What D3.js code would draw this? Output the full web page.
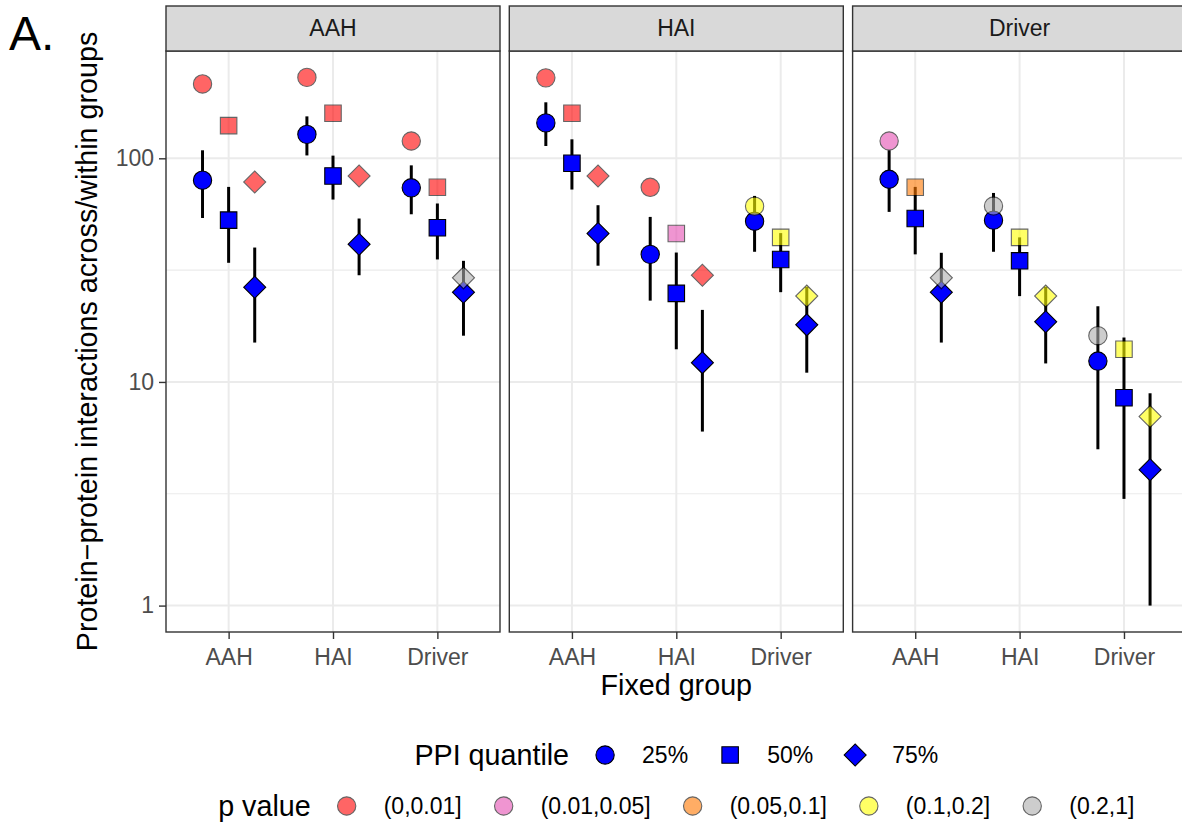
<!DOCTYPE html>
<html>
<head>
<meta charset="utf-8">
<script src="https://cdn.jsdelivr.net/npm/d3@7"></script>
<style>
    body { margin: 0; background: #ffffff; }
    svg { display: block; font-family: "Liberation Sans", Arial, Helvetica, sans-serif; }
</style>
</head>
<body>
<svg id="chart" width="1182" height="827"></svg>
<script>
// facets, x categories and dodge groups
var facets = ["AAH", "HAI", "Driver"];
var fixedGroups = ["AAH", "HAI", "Driver"];
var quantiles = ["25%", "50%", "75%"];
var pBins = ["(0,0.01]", "(0.01,0.05]", "(0.05,0.1]", "(0.1,0.2]", "(0.2,1]"];
var pColors = ["#ff0000", "#e650b4", "#ff7800", "#ffff00", "#acacac"];
var yTicks = [1, 10, 100];

// values are listed facet by facet, then fixed group, then quantile
var observed = [
    79.8, 52.9, 26.5, 128, 83.4, 41.3, 73.8, 48.9, 25.2,
    144, 95, 46.1, 37.2, 24.9, 12.2, 52.3, 35.3, 18.0,
    80.6, 53.8, 25.2, 52.9, 34.8, 18.6, 12.4, 8.5, 4.05
];
var lower = [
    54.1, 34.1, 15.0, 103, 65.4, 30.0, 56.2, 35.3, 16.1,
    113.5, 72.5, 33.1, 23.1, 14.0, 6.0, 38.2, 25.2, 11.0,
    57.6, 37.2, 15.0, 38.2, 24.2, 12.1, 5.0, 3.0, 1.0
];
var upper = [
    108.6, 74.5, 39.9, 154, 102.8, 53.8, 93, 62.8, 34.8,
    178, 121.6, 61.7, 54.7, 37.9, 21.0, 67.9, 46.3, 26.6,
    108.6, 74.5, 37.8, 70, 44.3, 26.6, 21.8, 15.8, 8.9
];
var nullValue = [
    215, 140, 78.4, 230, 159, 83.4, 119.5, 74.2, 29.2,
    229, 159, 83.4, 74.2, 46.1, 30.0, 61.1, 44.3, 24.2,
    119.5, 74.2, 29.2, 61.2, 44.3, 24.2, 16.1, 14.0, 7.0
];
var pValueBin = [
    0, 0, 0, 0, 0, 0, 0, 0, 4,
    0, 0, 0, 0, 1, 0, 3, 3, 3,
    1, 2, 4, 4, 3, 3, 4, 3, 3
];

var data = [];
for (var i = 0; i < observed.length; i++) {
    data.push({
        facet: facets[Math.floor(i / 9)],
        group: fixedGroups[Math.floor(i / 3) % 3],
        quantile: quantiles[i % 3],
        obs: observed[i],
        lo: lower[i],
        hi: upper[i],
        nul: nullValue[i],
        p: pBins[pValueBin[i]]
    });
}

var svg = d3.select("#chart");
var font = "\"Liberation Sans\", Arial, Helvetica, sans-serif";

var panelLeft = 166, panelW = 334, panelGap = 9.3;
var panelTop = 51, panelBottom = 632, stripTop = 6;

// log y scale with ggplot style 5% expansion
var allVals = observed.concat(lower, upper, nullValue);
var lmin = Math.log10(d3.min(allVals)), lmax = Math.log10(d3.max(allVals));
var pad = (lmax - lmin) * 0.05;
var yScale = d3.scaleLog()
    .domain([Math.pow(10, lmin - pad), Math.pow(10, lmax + pad)])
    .range([panelBottom, panelTop]);

var colorScale = d3.scaleOrdinal().domain(pBins).range(pColors);
var shapeScale = d3.scaleOrdinal().domain(quantiles)
    .range([d3.symbolCircle, d3.symbolSquare, d3.symbolSquare]);
var sizeScale = d3.scaleOrdinal().domain(quantiles).range([263, 272, 242]);
var rotScale = d3.scaleOrdinal().domain(quantiles).range([0, 0, 45]);

function symbolPath(q) {
    return d3.symbol().type(shapeScale(q)).size(sizeScale(q))();
}

svg.append("rect").attr("width", 1182).attr("height", 827).attr("fill", "#ffffff");

facets.forEach(function (facet, fi) {
    var x0 = panelLeft + fi * (panelW + panelGap);
    var xScale = d3.scalePoint().domain(fixedGroups).range([x0, x0 + panelW]).padding(0.6);
    var step = xScale.step();
    var dodge = d3.scalePoint().domain(quantiles).range([-step / 4, step / 4]);
    var xPos = function (d) { return xScale(d.group) + dodge(d.quantile); };
    var rows = data.filter(function (d) { return d.facet == facet; });

    var g = svg.append("g");

    // grid
    var minor = [Math.sqrt(10), Math.sqrt(1000)];
    g.selectAll(".minor").data(minor).enter().append("line")
        .attr("x1", x0).attr("x2", x0 + panelW)
        .attr("y1", function (d) { return yScale(d); })
        .attr("y2", function (d) { return yScale(d); })
        .attr("stroke", "#ebebeb").attr("stroke-width", 1.1);
    g.selectAll(".major").data(yTicks).enter().append("line")
        .attr("x1", x0).attr("x2", x0 + panelW)
        .attr("y1", function (d) { return yScale(d); })
        .attr("y2", function (d) { return yScale(d); })
        .attr("stroke", "#ebebeb").attr("stroke-width", 2);
    g.selectAll(".vmajor").data(fixedGroups).enter().append("line")
        .attr("x1", function (d) { return xScale(d); })
        .attr("x2", function (d) { return xScale(d); })
        .attr("y1", panelTop).attr("y2", panelBottom)
        .attr("stroke", "#ebebeb").attr("stroke-width", 2);

    // error bars
    g.selectAll(".bar").data(rows).enter().append("line")
        .attr("x1", xPos).attr("x2", xPos)
        .attr("y1", function (d) { return yScale(d.lo); })
        .attr("y2", function (d) { return yScale(d.hi); })
        .attr("stroke", "#000000").attr("stroke-width", 3);

    // observed points
    g.selectAll(".obs").data(rows).enter().append("path")
        .attr("d", function (d) { return symbolPath(d.quantile); })
        .attr("transform", function (d) {
            return "translate(" + xPos(d) + "," + yScale(d.obs) + ") rotate(" + rotScale(d.quantile) + ")";
        })
        .attr("fill", "#0000ff").attr("stroke", "#000000").attr("stroke-width", 1.1);

    // null points coloured by p value
    g.selectAll(".nul").data(rows).enter().append("path")
        .attr("d", function (d) { return symbolPath(d.quantile); })
        .attr("transform", function (d) {
            return "translate(" + xPos(d) + "," + yScale(d.nul) + ") rotate(" + rotScale(d.quantile) + ")";
        })
        .attr("fill", function (d) { return colorScale(d.p); })
        .attr("stroke", "#000000").attr("stroke-width", 1.1)
        .attr("opacity", 0.6);

    // panel border and strip
    g.append("rect").attr("x", x0).attr("y", panelTop).attr("width", panelW)
        .attr("height", panelBottom - panelTop)
        .attr("fill", "none").attr("stroke", "#333333").attr("stroke-width", 1.4);
    g.append("rect").attr("x", x0).attr("y", stripTop).attr("width", panelW)
        .attr("height", panelTop - stripTop)
        .attr("fill", "#d9d9d9").attr("stroke", "#333333").attr("stroke-width", 1.4);
    g.append("text").attr("x", x0 + panelW / 2).attr("y", 36)
        .attr("text-anchor", "middle").attr("font-size", 23).attr("fill", "#1a1a1a")
        .text(facet);

    // x axis
    var axisBottom = d3.axisBottom(xScale).tickSize(7).tickPadding(4);
    var ax = g.append("g").attr("transform", "translate(0," + panelBottom + ")").call(axisBottom);
    ax.select(".domain").remove();
    ax.selectAll(".tick line").attr("stroke", "#333333").attr("stroke-width", 1.4);
    ax.selectAll(".tick text").attr("font-size", 23).attr("fill", "#4d4d4d")
        .attr("font-family", font).attr("dy", "0.95em");

    if (fi == 0) {
        var axisLeft = d3.axisLeft(yScale).tickValues(yTicks).tickFormat(d3.format("d"))
            .tickSize(7).tickPadding(5);
        var ay = g.append("g").attr("transform", "translate(" + x0 + ",0)").call(axisLeft);
        ay.select(".domain").remove();
        ay.selectAll(".tick line").attr("stroke", "#333333").attr("stroke-width", 1.4);
        ay.selectAll(".tick text").attr("font-size", 23).attr("fill", "#4d4d4d")
            .attr("font-family", font);
    }
});

var plotMid = panelLeft + (3 * panelW + 2 * panelGap) / 2;

// axis titles
svg.append("text").attr("x", plotMid).attr("y", 695)
    .attr("text-anchor", "middle").attr("font-size", 28.7).attr("fill", "#000000")
    .text("Fixed group");
svg.append("text")
    .attr("transform", "translate(97," + ((panelTop + panelBottom) / 2) + ") rotate(-90)")
    .attr("text-anchor", "middle").attr("font-size", 28.7).attr("fill", "#000000")
    .text("Protein\u2212protein interactions across/within groups");

// panel tag
svg.append("text").attr("x", 9).attr("y", 50).attr("font-size", 48).attr("fill", "#000000").text("A.");

// legends, each row centred under the panels
function drawLegend(title, labels, yc, drawKey) {
    var lg = svg.append("g");
    var t = lg.append("text").attr("x", 0).attr("y", yc + 10).attr("font-size", 28.7)
        .attr("fill", "#000000").text(title);
    var x = t.node().getComputedTextLength() + 36;
    labels.forEach(function (lab, li) {
        drawKey(lg, x, yc, li);
        var tx = lg.append("text").attr("x", x + 37).attr("y", yc + 8).attr("font-size", 23)
            .attr("fill", "#000000").text(lab);
        x = x + 37 + tx.node().getComputedTextLength() + 42;
    });
    var w = x - 42;
    lg.attr("transform", "translate(" + (plotMid - w / 2) + ",0)");
}

drawLegend("PPI quantile", quantiles, 755, function (lg, x, yc, li) {
    lg.append("path").attr("d", symbolPath(quantiles[li]))
        .attr("transform", "translate(" + x + "," + yc + ") rotate(" + rotScale(quantiles[li]) + ")")
        .attr("fill", "#0000ff").attr("stroke", "#000000").attr("stroke-width", 1.1);
});

drawLegend("p value", pBins, 806, function (lg, x, yc, li) {
    lg.append("path").attr("d", symbolPath(quantiles[0]))
        .attr("transform", "translate(" + x + "," + yc + ")")
        .attr("fill", colorScale(pBins[li])).attr("stroke", "#000000").attr("stroke-width", 1.1)
        .attr("opacity", 0.6);
});
</script>
</body>
</html>
